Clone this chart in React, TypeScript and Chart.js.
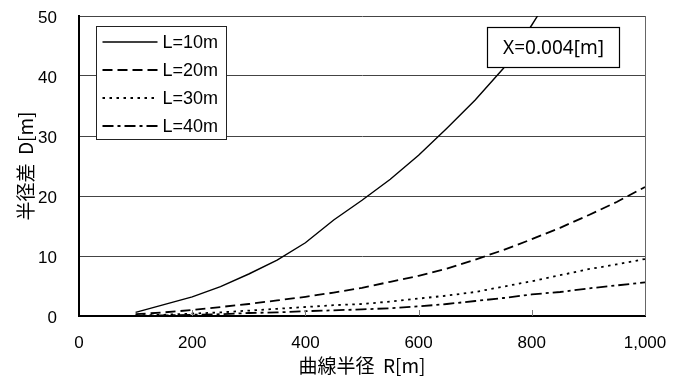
import React, { useEffect, useRef } from "react";
import { Chart, registerables } from "chart.js";

Chart.register(...registerables);

// ---- data ----
const radii = [100, 150, 200, 250, 300, 350, 400, 450, 500, 550, 600, 650, 700, 750, 800, 850, 900, 950, 1000];
const dL10 = [0.6, 1.9, 3.2, 4.9, 7.0, 9.3, 12.2, 16.0, 19.3, 22.8, 26.8, 31.3, 36.0, 41.3, 48.5, 56.0, null, null, null];
const dL20 = [0.3, 0.6, 1.0, 1.5, 2.0, 2.6, 3.2, 3.9, 4.7, 5.7, 6.7, 7.9, 9.4, 11.0, 12.8, 14.7, 16.8, 19.0, 21.5];
const dL30 = [0.1, 0.2, 0.4, 0.6, 0.9, 1.2, 1.5, 1.8, 2.0, 2.4, 2.9, 3.4, 4.0, 4.9, 5.8, 6.8, 7.8, 8.6, 9.5];
const dL40 = [0.05, 0.1, 0.2, 0.3, 0.5, 0.6, 0.8, 0.95, 1.1, 1.3, 1.6, 2.0, 2.5, 3.0, 3.6, 4.0, 4.6, 5.1, 5.6];

const seriesNames = ["L=10m", "L=20m", "L=30m", "L=40m"];
const seriesValues = [dL10, dL20, dL30, dL40];
const seriesDash: number[][] = [[], [10, 5], [2.5, 4.5], [11, 4, 3, 4]];
const seriesWidth = [1.4, 1.8, 1.8, 1.8];

const xTitle = "曲線半径  R[m]";
const yTitle = "半径差  D[m]";
const noteText = "X=0.004[m]";

const xMin = 0, xMax = 1000, xStep = 200;
const yMin = 0, yMax = 50, yStep = 10;

const overlayPlugin = {
  id: "overlay",
  afterDatasetsDraw(chart: any) {
    const { ctx, chartArea } = chart;
    const xs = chart.scales.x;
    ctx.save();
    // right border
    ctx.strokeStyle = "#666";
    ctx.lineWidth = 1;
    ctx.beginPath();
    ctx.moveTo(chartArea.right + 0.5, chartArea.top);
    ctx.lineTo(chartArea.right + 0.5, chartArea.bottom);
    ctx.stroke();
    // inward x ticks
    ctx.strokeStyle = "#777";
    xs.ticks.forEach((t: any) => {
      if (t.value <= xMin || t.value >= xMax) return;
      const px = Math.round(xs.getPixelForValue(t.value)) + 0.5;
      ctx.beginPath();
      ctx.moveTo(px, chartArea.bottom);
      ctx.lineTo(px, chartArea.bottom - 6);
      ctx.stroke();
    });

    // legend box
    const lx = chartArea.left + 17.5;
    const ly = chartArea.top + 10.5;
    const lw = 130;
    const lh = 113;
    ctx.fillStyle = "#fff";
    ctx.fillRect(lx, ly, lw, lh);
    ctx.strokeStyle = "#222";
    ctx.lineWidth = 1;
    ctx.strokeRect(lx, ly, lw, lh);
    ctx.font = "18px 'Liberation Sans', Arial, sans-serif";
    ctx.textBaseline = "middle";
    ctx.textAlign = "left";
    seriesNames.forEach((name, i) => {
      const yy = ly + 15.5 + i * 28;
      ctx.strokeStyle = "#000";
      ctx.lineWidth = seriesWidth[i];
      ctx.setLineDash(seriesDash[i]);
      ctx.beginPath();
      ctx.moveTo(lx + 6, yy);
      ctx.lineTo(lx + 61, yy);
      ctx.stroke();
      ctx.setLineDash([]);
      ctx.fillStyle = "#000";
      ctx.fillText(name, lx + 66, yy + 1);
    });

    // annotation box
    const ax = chartArea.right - 157.5;
    const ay = chartArea.top + 11.5;
    const aw = 132;
    const ah = 40;
    ctx.fillStyle = "#fff";
    ctx.fillRect(ax, ay, aw, ah);
    ctx.strokeStyle = "#000";
    ctx.lineWidth = 1.2;
    ctx.strokeRect(ax, ay, aw, ah);
    ctx.fillStyle = "#000";
    ctx.font = "19px 'Noto Sans', 'Open Sans', sans-serif";
    ctx.textAlign = "center";
    ctx.textBaseline = "middle";
    ctx.fillText(noteText, ax + aw / 2, ay + ah / 2 + 1);
    ctx.restore();
  },
};

export default function App() {
  const ref = useRef<HTMLCanvasElement | null>(null);

  useEffect(() => {
    if (!ref.current) return;
    const datasets = seriesNames.map((name, i) => ({
      label: name,
      data: radii.map((r, j) => ({ x: r, y: seriesValues[i][j] })),
      borderColor: "#000",
      backgroundColor: "#000",
      borderWidth: seriesWidth[i],
      borderDash: seriesDash[i],
      pointRadius: 0,
      fill: false,
      tension: 0,
      spanGaps: false,
    }));

    const chart = new Chart(ref.current, {
      type: "line",
      data: { datasets },
      plugins: [overlayPlugin],
      options: {
        animation: false,
        responsive: false,
        maintainAspectRatio: false,
        locale: "en-US",
        layout: { padding: { left: 0, top: 16, right: 37, bottom: 0 } },
        plugins: {
          legend: { display: false },
          title: { display: false },
          tooltip: { enabled: false },
        },
        scales: {
          x: {
            type: "linear",
            min: xMin,
            max: xMax,
            afterFit: (s: any) => {
              s.height = 67;
              s.paddingLeft = 0;
              s.paddingRight = 0;
              s.paddingTop = 0;
              s.paddingBottom = 0;
            },
            ticks: {
              stepSize: xStep,
              color: "#000",
              padding: 17,
              maxRotation: 0,
              font: { family: "'Liberation Sans', Arial, sans-serif", size: 17 },
            },
            grid: { display: false, drawTicks: false },
            border: { display: true, color: "#000", width: 2 },
            title: {
              display: true,
              text: xTitle,
              color: "#000",
              font: { family: "'Noto Sans CJK JP', sans-serif", size: 19 },
              padding: { top: 0, bottom: 6 },
            },
          },
          y: {
            type: "linear",
            min: yMin,
            max: yMax,
            afterFit: (s: any) => {
              s.width = 79;
              s.paddingLeft = 0;
              s.paddingRight = 0;
              s.paddingTop = 0;
              s.paddingBottom = 0;
            },
            ticks: {
              stepSize: yStep,
              color: "#000",
              padding: 22,
              labelOffset: 2,
              font: { family: "'Liberation Sans', Arial, sans-serif", size: 17 },
            },
            grid: { display: true, color: "#444", lineWidth: 1, drawTicks: false },
            border: { display: true, color: "#000", width: 2 },
            title: {
              display: true,
              text: yTitle,
              color: "#000",
              font: { family: "'Noto Sans CJK JP', sans-serif", size: 19 },
              padding: { top: 14, bottom: 0 },
            },
          },
        },
      },
    } as any);
    return () => chart.destroy();
  }, []);

  return (
    <div style={{ position: "fixed", left: 0, top: 0, width: 682, height: 383, background: "#fff" }}>
      <canvas ref={ref} width={682} height={383} style={{ display: "block", width: 682, height: 383 }} />
    </div>
  );
}
